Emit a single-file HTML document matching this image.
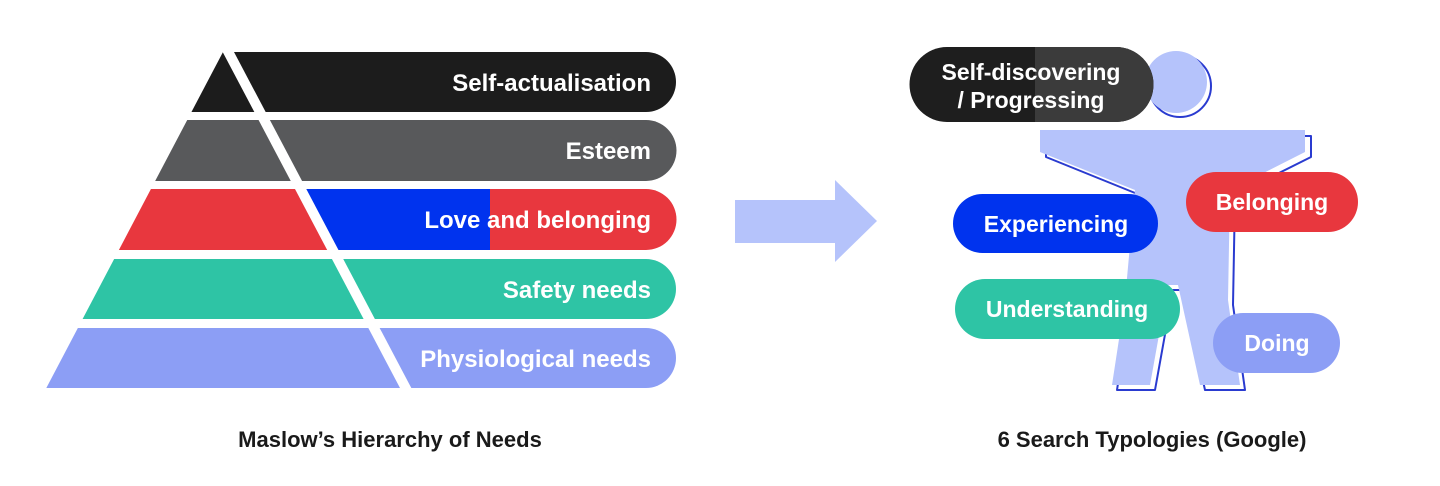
<!DOCTYPE html>
<html><head><meta charset="utf-8"><style>
html,body{margin:0;padding:0;background:#fff;}
svg{display:block}
text{font-family:"Liberation Sans",sans-serif;font-weight:bold;}
</style></head><body>
<svg width="1440" height="486" viewBox="0 0 1440 486" xmlns="http://www.w3.org/2000/svg">
<defs>
<clipPath id="pyr"><polygon points="223,52 2000,52 2000,400 40,400"/></clipPath>
</defs>
<g clip-path="url(#pyr)">
  <path d="M0,52 H646 A30,30 0 0 1 646,112 H0 Z" fill="#1c1c1c"/>
  <path d="M0,120 H646 A30.5,30.5 0 0 1 646,181 H0 Z" fill="#58595b"/>
  <path d="M0,189 H646 A30.5,30.5 0 0 1 646,250 H0 Z" fill="#e8373e"/>
  <polygon points="302,189 490,189 490,250 334,250" fill="#0033ee"/>
  <path d="M0,259 H646 A30,30 0 0 1 646,319 H0 Z" fill="#2ec4a5"/>
  <path d="M0,328 H646 A30,30 0 0 1 646,388 H0 Z" fill="#8c9ef5"/>
</g>
<line x1="222" y1="40" x2="412" y2="400" stroke="#fff" stroke-width="10"/>
<g fill="#fff" font-size="24" text-anchor="end">
<text x="651" y="91">Self-actualisation</text>
<text x="651" y="159">Esteem</text>
<text x="651" y="228">Love and belonging</text>
<text x="651" y="298">Safety needs</text>
<text x="651" y="367">Physiological needs</text>
</g>
<text x="390" y="447" font-size="22" fill="#1a1a1a" text-anchor="middle">Maslow’s Hierarchy of Needs</text>

<polygon points="735,200 835,200 835,180 877,221 835,262 835,243 735,243" fill="#b5c3fb"/>

<polygon points="1046,136 1311,136 1311,157 1235,195 1233,305 1245,390 1205,390 1183,290 1173,290 1155,390 1117,390 1130,305 1140,195 1046,157" fill="none" stroke="#2a3bd0" stroke-width="2" stroke-linejoin="round"/>
<polygon points="1040,130 1305,130 1305,152 1230,190 1228,300 1240,385 1200,385 1178,285 1168,285 1150,385 1112,385 1125,300 1135,190 1040,152" fill="#b5c3fb"/>
<circle cx="1180" cy="86" r="31" fill="none" stroke="#2a3bd0" stroke-width="2"/>
<circle cx="1176" cy="82" r="31" fill="#b5c3fb"/>

<path d="M947,47 H1116 A37.5,37.5 0 0 1 1116,122 H947 A37.5,37.5 0 0 1 947,47 Z" fill="#1e1e1e"/>
<path d="M1035,47 H1116 A37.5,37.5 0 0 1 1116,122 H1035 Z" fill="#3b3b3b"/>
<g fill="#fff" font-size="23" text-anchor="middle">
<text x="1031" y="80">Self-discovering</text>
<text x="1031" y="108">/ Progressing</text>
</g>

<rect x="953" y="194" width="205" height="59" rx="29.5" fill="#0033ee"/>
<text x="1056" y="232" fill="#fff" font-size="23" text-anchor="middle">Experiencing</text>
<rect x="1186" y="172" width="172" height="60" rx="30" fill="#e8373e"/>
<text x="1272" y="210" fill="#fff" font-size="23" text-anchor="middle">Belonging</text>
<rect x="955" y="279" width="225" height="60" rx="30" fill="#2ec4a5"/>
<text x="1067" y="317" fill="#fff" font-size="23" text-anchor="middle">Understanding</text>
<rect x="1213" y="313" width="127" height="60" rx="30" fill="#8c9ef5"/>
<text x="1277" y="351" fill="#fff" font-size="23" text-anchor="middle">Doing</text>

<text x="1152" y="447" font-size="22" fill="#1a1a1a" text-anchor="middle">6 Search Typologies (Google)</text>
</svg>
</body></html>
